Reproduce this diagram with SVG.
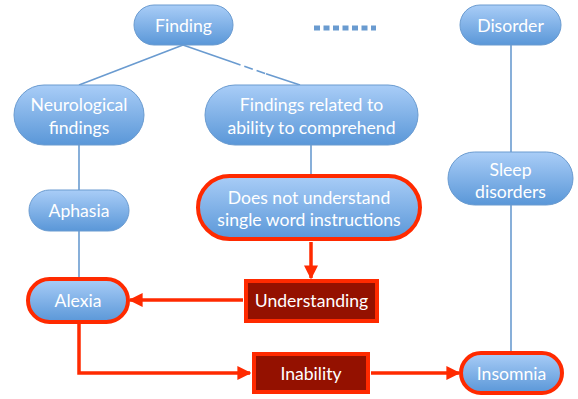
<svg xmlns="http://www.w3.org/2000/svg" width="578" height="399" viewBox="0 0 578 399">
<defs>
<linearGradient id="blue" x1="0" y1="0" x2="0" y2="1">
<stop offset="0" stop-color="#a9cdf7"/>
<stop offset="1" stop-color="#5a97d8"/>
</linearGradient>
<marker id="arr" viewBox="0 0 10 10" refX="9" refY="5" markerWidth="4" markerHeight="4" orient="auto" markerUnits="strokeWidth">
<path d="M0,0 L10,5 L0,10 z" fill="#ff2a00"/>
</marker>
</defs>
<style>
.pill{fill:url(#blue);stroke:#6a9bd0;stroke-width:1}
.hl{stroke:#ff2a00;stroke-width:4}
.box{fill:#941100;stroke:#ff2a00;stroke-width:4}
.t{font-family:Lato,"Open Sans","Liberation Sans",sans-serif;font-size:17.6px;fill:#ffffff;text-anchor:middle}
.bl{stroke:#6a9bd0;stroke-width:1.6;fill:none}
.rd{stroke:#ff2a00;stroke-width:3.5;fill:none}
</style>
<g id="connectors">
<line class="bl" x1="183" y1="45" x2="79" y2="85"/>
<path class="bl" d="M183,45 L232,62"/>
<path class="bl" d="M232,62 L266,73.7" stroke-dasharray="9,4"/>
<path class="bl" d="M266,73.7 L300,85"/>
<line class="bl" x1="79" y1="145" x2="79" y2="190"/>
<line class="bl" x1="79" y1="231" x2="79" y2="278"/>
<line class="bl" x1="311" y1="145" x2="311" y2="175"/>
<line class="bl" x1="511" y1="45" x2="511" y2="152"/>
<line class="bl" x1="511" y1="205" x2="511" y2="352"/>
<line x1="314" y1="28" x2="376" y2="28" stroke="#6a9bd0" stroke-width="5" stroke-dasharray="6,3.5"/>
<line class="rd" x1="311" y1="242" x2="311" y2="278" marker-end="url(#arr)"/>
<line class="rd" x1="243" y1="300" x2="130" y2="300" marker-end="url(#arr)"/>
<path class="rd" d="M79,323 L79,373 L250,373" marker-end="url(#arr)"/>
<line class="rd" x1="371" y1="373" x2="459" y2="373" marker-end="url(#arr)"/>
</g>
<g id="finding"><rect class="pill" x="134" y="5" width="99" height="40" rx="20"/><text class="t" x="183.5" y="31.5">Finding</text></g>
<g id="disorder"><rect class="pill" x="460" y="5" width="101" height="40" rx="20"/><text class="t" x="510.5" y="31.5">Disorder</text></g>
<g id="neuro"><rect class="pill" x="14" y="85" width="130" height="60" rx="30"/><text class="t" x="79" y="111">Neurological</text><text class="t" x="79" y="134">findings</text></g>
<g id="related"><rect class="pill" x="205" y="85" width="213" height="60" rx="30"/><text class="t" x="311.5" y="111">Findings related to</text><text class="t" x="311.5" y="134">ability to comprehend</text></g>
<g id="aphasia"><rect class="pill" x="29" y="190" width="100" height="41" rx="20.5"/><text class="t" x="79" y="217">Aphasia</text></g>
<g id="sleep"><rect class="pill" x="448" y="152" width="125" height="53" rx="26.5"/><text class="t" x="510.5" y="176">Sleep</text><text class="t" x="510.5" y="198">disorders</text></g>
<g id="doesnot"><rect class="pill hl" x="198" y="176" width="222" height="63" rx="31.5"/><text class="t" x="309" y="204">Does not understand</text><text class="t" x="309" y="226">single word instructions</text></g>
<g id="alexia"><rect class="pill hl" x="28" y="279" width="100" height="43" rx="21.5"/><text class="t" x="78" y="306.5">Alexia</text></g>
<g id="insomnia"><rect class="pill hl" x="461" y="353" width="101" height="40" rx="20"/><text class="t" x="511.5" y="379.5">Insomnia</text></g>
<g id="understanding"><rect class="box" x="246" y="281" width="131" height="40"/><text class="t" x="311.5" y="306.5">Understanding</text></g>
<g id="inability"><rect class="box" x="254" y="354" width="114" height="38"/><text class="t" x="311" y="379.5">Inability</text></g>
</svg>
